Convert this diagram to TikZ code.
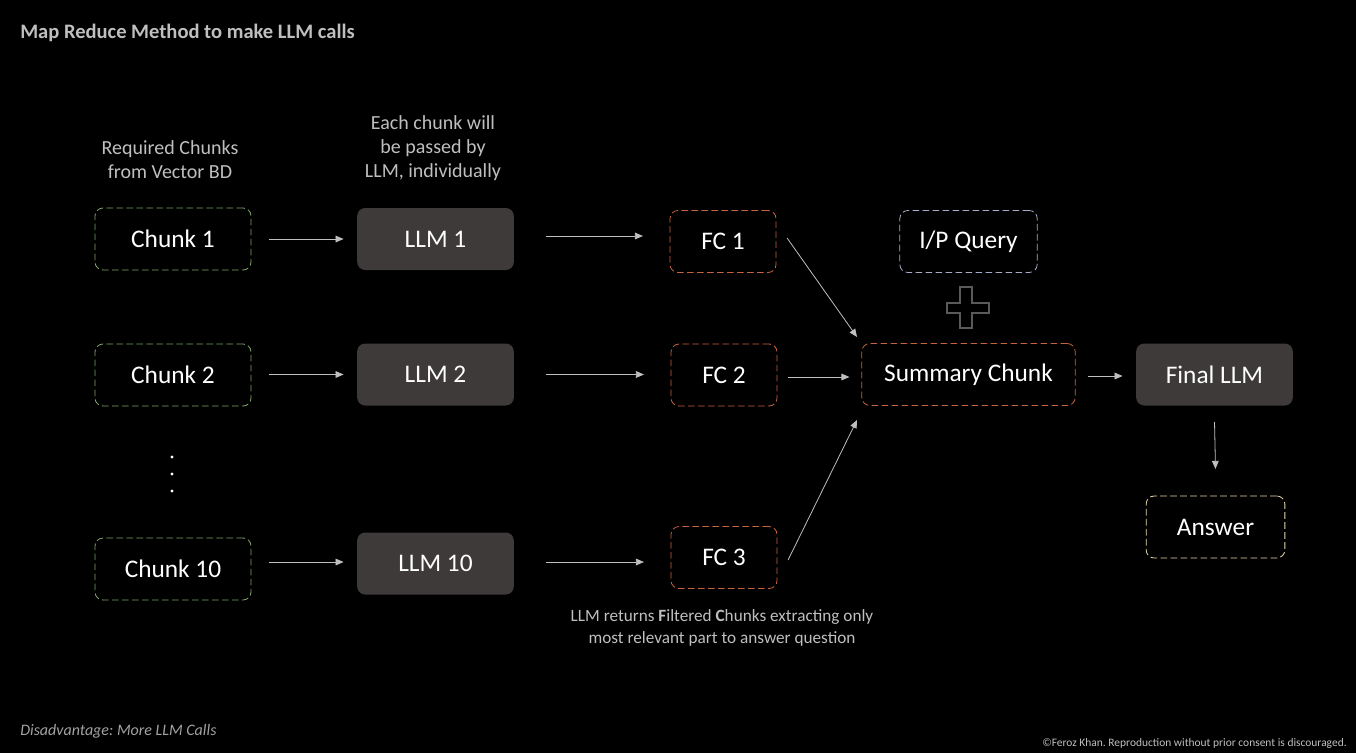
\documentclass[tikz,border=0pt]{standalone}
\usepackage{fontspec}
\setmainfont{Carlito}
\usetikzlibrary{arrows.meta}
\definecolor{bg}{HTML}{000000}
\definecolor{llmfill}{HTML}{3D3A39}
\definecolor{chunkc}{HTML}{7FA66A}
\definecolor{fcc}{HTML}{C4633D}
\definecolor{qc}{HTML}{A7ACC8}
\definecolor{ansc}{HTML}{E6D9AE}
\definecolor{arrc}{HTML}{BFBFBF}
\definecolor{labc}{HTML}{BFBFBF}
\definecolor{plusc}{HTML}{5A5A5A}
\tikzset{
  box/.style={rounded corners=6pt, minimum height=46.5pt, inner sep=0pt, text=white, font=\fontsize{19}{22}\selectfont},
  dbox/.style={box, draw, dash pattern=on 5pt off 2.5pt, line width=0.6pt},
  chunkbox/.style={dbox, draw=chunkc, minimum width=117pt},
  llmbox/.style={box, fill=llmfill, minimum width=117.5pt},
  fcbox/.style={dbox, draw=fcc, minimum width=79.5pt},
  conn/.style={draw=arrc, line width=0.6pt, -{Triangle[length=6pt,width=5pt]}},
  lab/.style={text=labc, align=center, font=\fontsize{15}{18}\selectfont},
}
\frenchspacing
\begin{document}
\begin{tikzpicture}[x=0.75pt,y=-0.75pt]
\fill[bg] (0,0) rectangle (1356,753);
\useasboundingbox (0,0) rectangle (1356,753);

\node[anchor=west, inner sep=0pt, text=labc, font=\bfseries\fontsize{15.4}{17}\selectfont] (title) at (20,33) {Map Reduce Method to make LLM calls};

\node[lab] (lab1) at (170,160) {Required Chunks\\from Vector BD};
\node[lab] (lab2) at (433,148) {Each chunk will\\be passed by\\LLM, individually};

\node[chunkbox] (c1) at (173,239) {Chunk 1};
\node[chunkbox] (c2) at (173,375) {Chunk 2};
\node[chunkbox] (c10) at (173,569) {Chunk 10};

\node[llmbox] (l1) at (435.5,239) {LLM 1};
\node[llmbox] (l2) at (435.5,374.5) {LLM 2};
\node[llmbox] (l10) at (435.5,563.5) {LLM 10};

\node[fcbox] (f1) at (723,241.5) {FC 1};
\node[fcbox] (f2) at (724,375) {FC 2};
\node[fcbox] (f3) at (724,557.5) {FC 3};

\node[dbox, draw=qc, minimum width=103pt] (q) at (968.5,241.5) {I/P Query};
\node[dbox, draw=fcc, minimum width=160pt] (s) at (968.5,374.5) {Summary Chunk};
\node[llmbox] (fl) at (1214.5,374.5) {Final LLM};
\node[dbox, draw=ansc, minimum width=104pt] (a) at (1215.5,527) {Answer};

% dots
\node[circle, fill=white, inner sep=0pt, minimum size=2.3pt] (d1) at (172,457) {};
\node[circle, fill=white, inner sep=0pt, minimum size=2.3pt] (d2) at (172,474) {};
\node[circle, fill=white, inner sep=0pt, minimum size=2.3pt] (d3) at (172,491) {};

% plus
\draw[plusc, line width=1pt] (960,287) -- (972,287) -- (972,303) -- (989,303) -- (989,313) -- (972,313) -- (972,328) -- (960,328) -- (960,313) -- (947,313) -- (947,303) -- (960,303) -- cycle;

% connectors
\draw[conn] ([xshift=13pt]c1.east) -- ([xshift=-10pt]l1.west);
\draw[conn] ([xshift=13pt]c2.east |- l2.west) -- ([xshift=-10pt]l2.west);
\draw[conn] ([xshift=13pt]c10.east |- 0,562) -- ([xshift=-10pt]l10.west |- 0,562);
\draw[conn] ([xshift=24pt]l1.east |- 0,236) -- ([xshift=-20pt]f1.west |- 0,236);
\draw[conn] ([xshift=24pt]l2.east) -- ([xshift=-20pt]f2.west |- l2.east);
\draw[conn] ([xshift=24pt]l10.east |- 0,562) -- ([xshift=-20pt]f3.west |- 0,562);
\draw[conn] ([xshift=8pt]f1.east |- 0,238) -- (857,337);
\draw[conn] ([xshift=8pt]f2.east |- 0,377) -- ([xshift=-9pt]s.west |- 0,377);
\draw[conn] ([xshift=8pt]f3.east |- 0,560) -- (857,420);
\draw[conn] ([xshift=9pt]s.east |- 0,376) -- ([xshift=-10pt]fl.west |- 0,376);
\draw[conn] ([yshift=-12pt]fl.south) -- ([yshift=20pt]a.north);

\node[text=labc, align=center, font=\fontsize{12.9}{16}\selectfont] (lab3) at (722,628) {LLM returns \textbf{F}iltered \textbf{C}hunks extracting only\\most relevant part to answer question};

\node[anchor=west, inner sep=0pt, text=labc!85!black, font=\itshape\fontsize{12}{14}\selectfont] (dis) at (20,731) {Disadvantage: More LLM Calls};
\node[anchor=east, inner sep=0pt, text=labc, font=\fontsize{8.6}{10}\selectfont] (copy) at (1347,743) {©Feroz Khan. Reproduction without prior consent is discouraged.};
\end{tikzpicture}
\end{document}
